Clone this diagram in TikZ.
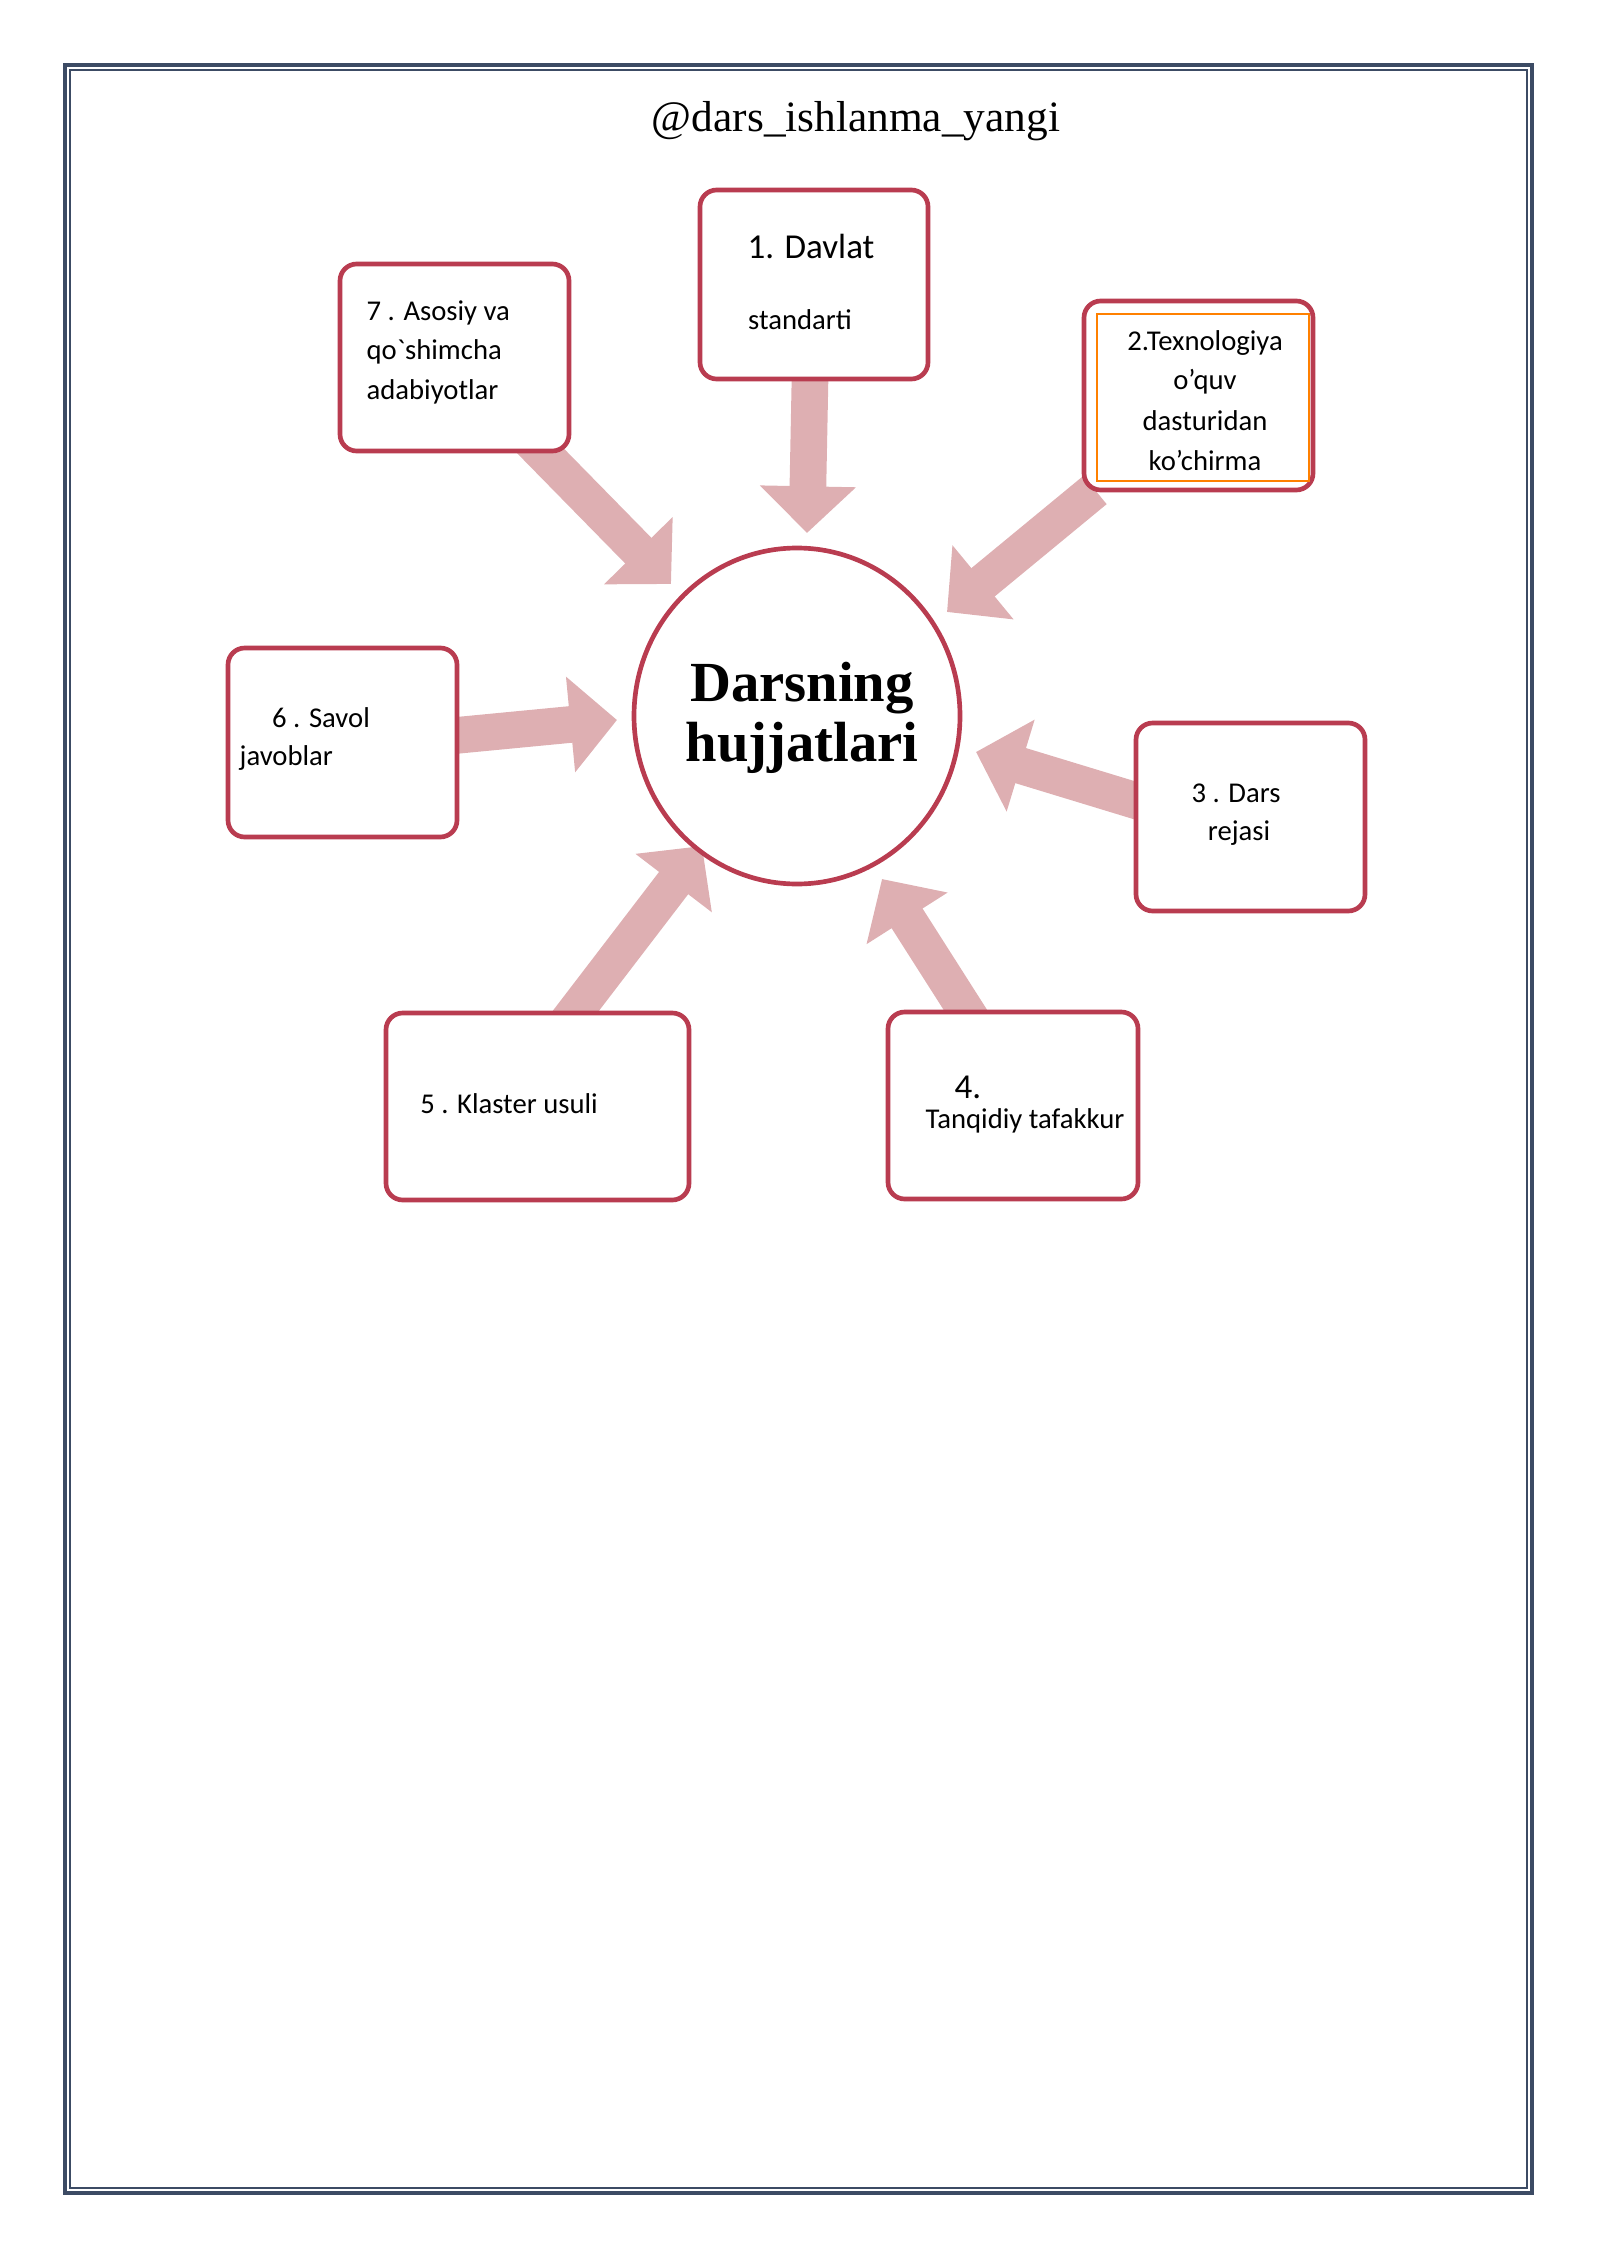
\documentclass[tikz,border=0pt]{standalone}
\usepackage{fontspec}
\setmainfont{Liberation Serif}
\newfontfamily\carfont{Carlito}
\usetikzlibrary{arrows.meta}
\definecolor{bx}{RGB}{185,60,80}
\definecolor{ar}{RGB}{222,175,178}
\definecolor{bd}{RGB}{60,75,100}
\begin{document}
\begin{tikzpicture}[x=0.3pt,y=-0.3pt,
 box/.style={draw=bx,line width=1.4pt,rounded corners=5pt},
 t/.style={font=\carfont\fontsize{8.6}{9}\selectfont,inner sep=0pt},
 arr/.style={ar,line width=11pt,-{Triangle[width=28pt,length=14pt]}}]
\useasboundingbox (0,0) rectangle (1600,2262);
\draw[bd,line width=1pt] (65,65) rectangle (1532,2193);
\draw[bd,line width=0.5pt] (70,70) rectangle (1527,2188);
\node (title) at (856,121) {\fontsize{13}{15}\selectfont @dars\_ishlanma\_yangi};
% arrows (drawn first)
\coordinate (a1s) at (810,379); \coordinate (a1e) at (807,533);
\coordinate (a7s) at (520,430); \coordinate (a7e) at (671,584);
\coordinate (a2s) at (1095,490); \coordinate (a2e) at (947,612);
\coordinate (a6s) at (440,737); \coordinate (a6e) at (617,720);
\coordinate (a3s) at (1150,805); \coordinate (a3e) at (976,752);
\coordinate (a5s) at (565,1025); \coordinate (a5e) at (702,846);
\coordinate (a4s) at (975,1025); \coordinate (a4e) at (882,879);
\foreach \i in {1,7,2,6,3,5,4} \draw[arr] (a\i s) -- (a\i e);
% boxes
\draw[box,fill=white] (700,190) rectangle (928,379) node[pos=0.5] (b1) {};
\draw[box,fill=white] (340,264) rectangle (569,451) node[pos=0.5] (b7) {};
\draw[box,fill=white] (1084,301) rectangle (1313,490) node[pos=0.5] (b2) {};
\draw[orange,line width=0.6pt] (1097,314) rectangle (1309,481);
\draw[box,fill=white] (228,648) rectangle (457,837) node[pos=0.5] (b6) {};
\draw[box,fill=white] (1136,723) rectangle (1365,911) node[pos=0.5] (b3) {};
\draw[box,fill=white] (386,1013) rectangle (689,1200) node[pos=0.5] (b5) {};
\draw[box,fill=white] (888,1012) rectangle (1138,1199) node[pos=0.5] (b4) {};
\draw[bx,line width=1.4pt,fill=white] (797,716) ellipse (163 and 168);
\node[align=center,font=\bfseries\fontsize{17}{18}\selectfont] (c) at (802,718) {Darsning\\hujjatlari};
% texts
\node[t,font=\carfont\fontsize{10.5}{11}\selectfont] (t1a) at (811,246) {1. Davlat};
\node[t] (t1b) at (800,320) {standarti};
\node[t,anchor=west] (t7a) at (366,313) {7 . Asosiy va};
\node[t,anchor=west] (t7b) at (366,352) {qo`shimcha};
\node[t,anchor=west] (t7c) at (366,392) {adabiyotlar};
\node[t] (t2a) at (1205,343) {2.Texnologiya};
\node[t] (t2b) at (1205,382) {o’quv};
\node[t] (t2c) at (1205,421) {dasturidan};
\node[t] (t2d) at (1205,460) {ko’chirma};
\node[t] (t6a) at (321,718) {6 . Savol};
\node[t,anchor=west] (t6b) at (239,758) {javoblar};
\node[t] (t3a) at (1236,793) {3 . Dars};
\node[t] (t3b) at (1239,833) {rejasi};
\node[t] (t5) at (509,1104) {5 . Klaster usuli};
\node[t,font=\carfont\fontsize{10.5}{11}\selectfont] (t4a) at (968,1087) {4.};
\node[t] (t4b) at (1025,1121) {Tanqidiy tafakkur};
\end{tikzpicture}
\end{document}
